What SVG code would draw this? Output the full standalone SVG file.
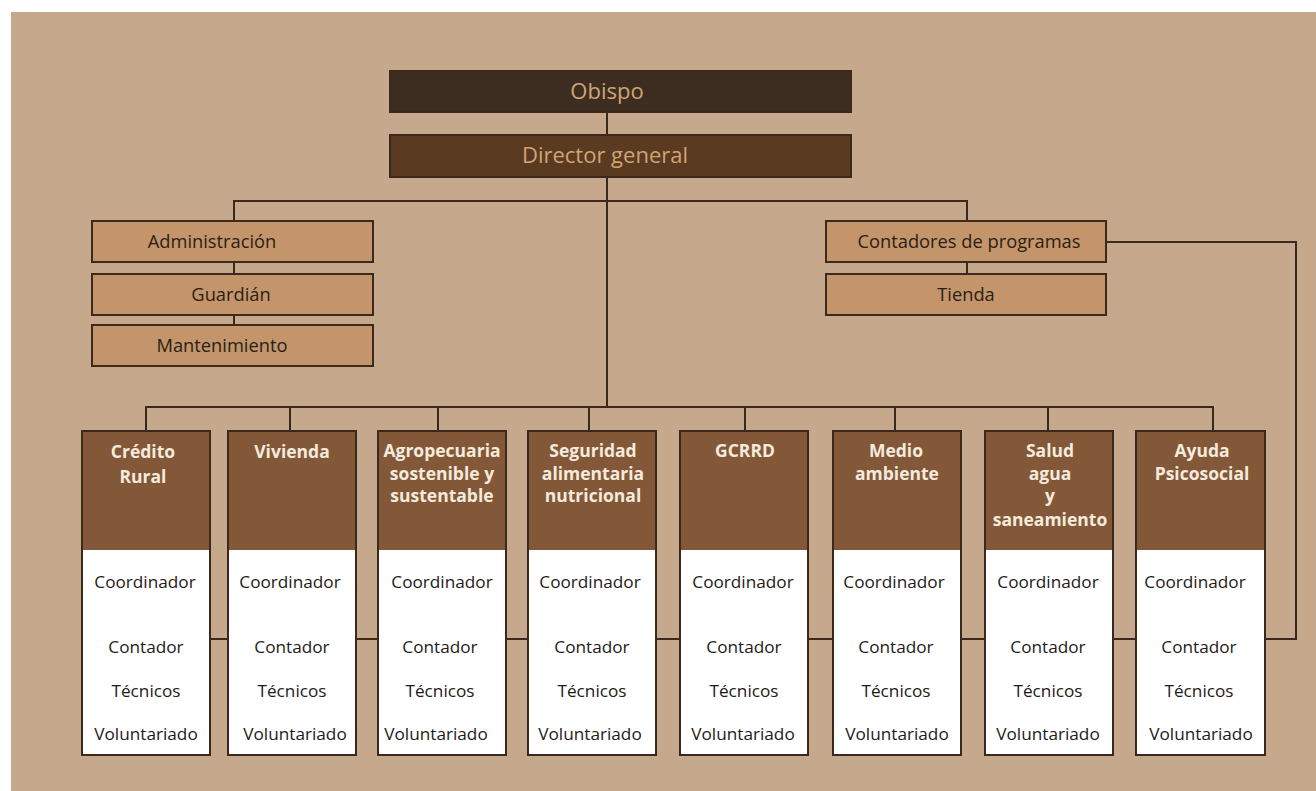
<svg xmlns="http://www.w3.org/2000/svg" width="1316" height="791" viewBox="0 0 1316 791">
<style>
.ln{fill:none;stroke:#3b2a1c;stroke-width:2}
.bx{stroke:#3b2a1c;stroke-width:2}
.top{font-family:"Open Sans","Noto Sans",sans-serif;font-size:22px;fill:#d0a474;text-anchor:middle}
.lt{fill:#c4956a}
.lbl{font-family:"Open Sans","Noto Sans",sans-serif;font-size:18.3px;fill:#2a1e15;text-anchor:middle}
.hd{fill:#835839}
.hdt{font-family:"Open Sans","Noto Sans",sans-serif;font-size:17.5px;font-weight:bold;fill:#f5ebdd;text-anchor:middle}
.wt{fill:#ffffff}
.it{font-family:"Open Sans","Noto Sans",sans-serif;font-size:17.2px;fill:#1e1a17;text-anchor:middle}
</style>
<rect x="0" y="0" width="1316" height="791" fill="#ffffff"/>
<rect x="11" y="12" width="1305" height="779" fill="#c6a98c"/>
<g id="connectors">
<path class="ln" d="M607 112V407"/>
<path class="ln" d="M234 221V201H967V221"/>
<path class="ln" d="M234 262V325"/>
<path class="ln" d="M967 262V274"/>
<path class="ln" d="M146 431V407H1213V431"/>
<path class="ln" d="M290 407V431M438 407V431M589 407V431M745 407V431M895 407V431M1048 407V431"/>
<path class="ln" d="M1106 242H1296V639H210"/>
</g>
<g id="obispo"><rect class="bx" x="390" y="71" width="461" height="41" fill="#3d2d21"/><text class="top" x="607" y="99">Obispo</text></g>
<g id="director"><rect class="bx" x="390" y="135" width="461" height="42" fill="#5b3a22"/><text class="top" x="605" y="163">Director general</text></g>
<g id="administracion"><rect class="bx lt" x="92" y="221" width="281" height="41"/><text class="lbl" x="212" y="248">Administración</text></g>
<g id="guardian"><rect class="bx lt" x="92" y="274" width="281" height="41"/><text class="lbl" x="231" y="301">Guardián</text></g>
<g id="mantenimiento"><rect class="bx lt" x="92" y="325" width="281" height="41"/><text class="lbl" x="222" y="352">Mantenimiento</text></g>
<g id="contadores"><rect class="bx lt" x="826" y="221" width="280" height="41"/><text class="lbl" x="969" y="248">Contadores de programas</text></g>
<g id="tienda"><rect class="bx lt" x="826" y="274" width="280" height="41"/><text class="lbl" x="966" y="301">Tienda</text></g>

<g id="credito"><rect class="hd" x="82" y="431" width="128" height="119"/><rect class="wt" x="82" y="550" width="128" height="205"/><rect class="bx" fill="none" x="82" y="431" width="128" height="324"/>
<text class="hdt" x="143" y="458">Crédito</text><text class="hdt" x="143" y="483">Rural</text>
<text class="it" x="145" y="588">Coordinador</text><text class="it" x="146" y="653">Contador</text><text class="it" x="146" y="697">Técnicos</text><text class="it" x="146" y="740">Voluntariado</text></g>

<g id="vivienda"><rect class="hd" x="228" y="431" width="128" height="119"/><rect class="wt" x="228" y="550" width="128" height="205"/><rect class="bx" fill="none" x="228" y="431" width="128" height="324"/>
<text class="hdt" x="292" y="458">Vivienda</text>
<text class="it" x="290" y="588">Coordinador</text><text class="it" x="292" y="653">Contador</text><text class="it" x="292" y="697">Técnicos</text><text class="it" x="295" y="740">Voluntariado</text></g>

<g id="agropecuaria"><rect class="hd" x="378" y="431" width="128" height="119"/><rect class="wt" x="378" y="550" width="128" height="205"/><rect class="bx" fill="none" x="378" y="431" width="128" height="324"/>
<text class="hdt" x="442" y="457">Agropecuaria</text><text class="hdt" x="442" y="480">sostenible y</text><text class="hdt" x="442" y="502">sustentable</text>
<text class="it" x="442" y="588">Coordinador</text><text class="it" x="440" y="653">Contador</text><text class="it" x="440" y="697">Técnicos</text><text class="it" x="436" y="740">Voluntariado</text></g>

<g id="seguridad"><rect class="hd" x="528" y="431" width="128" height="119"/><rect class="wt" x="528" y="550" width="128" height="205"/><rect class="bx" fill="none" x="528" y="431" width="128" height="324"/>
<text class="hdt" x="593" y="457">Seguridad</text><text class="hdt" x="593" y="480">alimentaria</text><text class="hdt" x="593" y="502">nutricional</text>
<text class="it" x="590" y="588">Coordinador</text><text class="it" x="592" y="653">Contador</text><text class="it" x="592" y="697">Técnicos</text><text class="it" x="590" y="740">Voluntariado</text></g>

<g id="gcrrd"><rect class="hd" x="680" y="431" width="128" height="119"/><rect class="wt" x="680" y="550" width="128" height="205"/><rect class="bx" fill="none" x="680" y="431" width="128" height="324"/>
<text class="hdt" x="745" y="457">GCRRD</text>
<text class="it" x="743" y="588">Coordinador</text><text class="it" x="744" y="653">Contador</text><text class="it" x="744" y="697">Técnicos</text><text class="it" x="743" y="740">Voluntariado</text></g>

<g id="medio"><rect class="hd" x="833" y="431" width="128" height="119"/><rect class="wt" x="833" y="550" width="128" height="205"/><rect class="bx" fill="none" x="833" y="431" width="128" height="324"/>
<text class="hdt" x="896" y="457">Medio</text><text class="hdt" x="897" y="480">ambiente</text>
<text class="it" x="894" y="588">Coordinador</text><text class="it" x="896" y="653">Contador</text><text class="it" x="896" y="697">Técnicos</text><text class="it" x="897" y="740">Voluntariado</text></g>

<g id="salud"><rect class="hd" x="985" y="431" width="128" height="119"/><rect class="wt" x="985" y="550" width="128" height="205"/><rect class="bx" fill="none" x="985" y="431" width="128" height="324"/>
<text class="hdt" x="1050" y="457">Salud</text><text class="hdt" x="1050" y="480">agua</text><text class="hdt" x="1050" y="502">y</text><text class="hdt" x="1050" y="526">saneamiento</text>
<text class="it" x="1048" y="588">Coordinador</text><text class="it" x="1048" y="653">Contador</text><text class="it" x="1048" y="697">Técnicos</text><text class="it" x="1048" y="740">Voluntariado</text></g>

<g id="ayuda"><rect class="hd" x="1136" y="431" width="129" height="119"/><rect class="wt" x="1136" y="550" width="129" height="205"/><rect class="bx" fill="none" x="1136" y="431" width="129" height="324"/>
<text class="hdt" x="1202" y="457">Ayuda</text><text class="hdt" x="1202" y="480">Psicosocial</text>
<text class="it" x="1195" y="588">Coordinador</text><text class="it" x="1199" y="653">Contador</text><text class="it" x="1199" y="697">Técnicos</text><text class="it" x="1201" y="740">Voluntariado</text></g>
</svg>
